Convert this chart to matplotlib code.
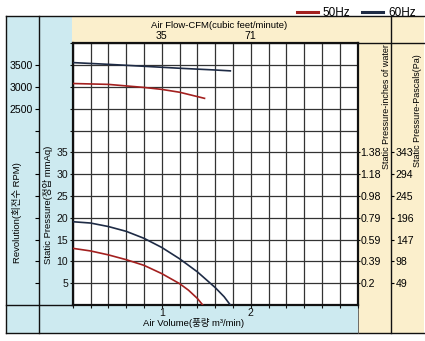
import numpy as np
import matplotlib
matplotlib.use("Agg")
import matplotlib.pyplot as plt
from matplotlib.patches import Rectangle
from matplotlib import font_manager

names = {f.name for f in font_manager.fontManager.ttflist}
narrow = 'Liberation Sans Narrow' if 'Liberation Sans Narrow' in names else 'Liberation Sans'
plt.rcParams['font.family'] = [narrow, 'Noto Sans CJK KR', 'DejaVu Sans']

# --- data (air volume in m3/min) ---
vol_60_sp = [0.0, 0.2, 0.4, 0.6, 0.8, 1.0, 1.2, 1.4, 1.6, 1.7, 1.77]
sp_60 = [19.1, 18.8, 18.0, 16.9, 15.3, 13.2, 10.6, 7.6, 4.0, 1.9, 0.0]
vol_50_sp = [0.0, 0.2, 0.4, 0.6, 0.8, 1.0, 1.2, 1.3, 1.4, 1.46]
sp_50 = [13.0, 12.4, 11.5, 10.4, 9.1, 7.2, 4.9, 3.4, 1.5, 0.0]

vol_60_rpm = [0.0, 0.4, 0.8, 1.2, 1.6, 1.77]
rpm_60 = [3560, 3520, 3475, 3430, 3390, 3370]
vol_50_rpm = [0.0, 0.4, 0.8, 1.0, 1.2, 1.48]
rpm_50 = [3080, 3060, 2990, 2945, 2880, 2740]

mmaq_ticks = [5, 10, 15, 20, 25, 30, 35]
inch_labels = ["0.2", "0.39", "0.59", "0.79", "0.98", "1.18", "1.38"]
pa_labels = ["49", "98", "147", "196", "245", "294", "343"]
rpm_ticks = [2500, 3000, 3500]
volume_ticks = [1, 2]
cfm_labels = ["35", "71"]

RED = '#a3201f'
NAVY = '#1e2b45'
BLUE_BG = '#cdeaf0'
BEIGE = '#fbefcc'
FS = 7.6
LFS = 6.8


def rpm_to_row(r):
    # RPM scale shares the grid: 3500 rpm on the 55 mmAq line, 100 rpm per unit
    return (np.asarray(r) - 3500) / 100.0 + 55


W, H = 425, 341
fig = plt.figure(figsize=(W / 100, H / 100), dpi=100)

# background panel in pixel coordinates
bg = fig.add_axes([0, 0, 1, 1])
bg.set_xlim(0, W)
bg.set_ylim(H, 0)
bg.axis('off')
bg.add_patch(Rectangle((6, 16), 66, 317, color=BLUE_BG, lw=0))
bg.add_patch(Rectangle((6, 305), 352, 28, color=BLUE_BG, lw=0))
bg.add_patch(Rectangle((72, 16), 352, 27, color=BEIGE, lw=0))
bg.add_patch(Rectangle((358, 43), 66, 290, color=BEIGE, lw=0))
k = dict(color='#111111', lw=1.0)
bg.plot([6, 424], [16, 16], **k)
bg.plot([6, 424], [333, 333], **k)
bg.plot([6, 6], [16, 333], **k)
bg.plot([39, 39], [16, 333], **k)
bg.plot([391, 391], [16, 333], **k)
bg.plot([6, 72], [305, 305], **k)
bg.plot([358, 424], [43, 43], **k)
bg.plot([358, 358], [305, 333], color='#555555', lw=0.6)

bg.text(17, 213, "Revolution(회전수 RPM)", rotation=90, ha='center', va='center', fontsize=LFS)
bg.text(48, 205, "Static Pressure(정압 mmAq)", rotation=90, ha='center', va='center', fontsize=LFS)
bg.text(219, 25, "Air Flow-CFM(cubic feet/minute)", ha='center', va='center', fontsize=LFS)
bg.text(194, 323, "Air Volume(풍량 m³/min)", ha='center', va='center', fontsize=LFS)
bg.text(386.5, 107, "Static Pressure-inches of water", rotation=90, ha='center', va='center', fontsize=6.5)
bg.text(418, 111, "Static Pressure-Pascals(Pa)", rotation=90, ha='center', va='center', fontsize=6.5)

# main chart
ax = fig.add_axes([72.7 / W, (H - 305) / H, 285 / W, 261.6 / H])
ax.set_facecolor('white')
ax.set_xlim(0, 3.2)
ax.set_ylim(0, 60)

ax.set_xticks(np.arange(0, 3.2001, 0.2), minor=True)
ax.set_yticks(np.arange(0, 60.001, 5), minor=True)
ax.set_xticks(volume_ticks, [str(v) for v in volume_ticks])
ax.set_yticks(mmaq_ticks, [str(v) for v in mmaq_ticks])
ax.grid(True, which='both', color='#333333', lw=0.9)
ax.tick_params(which='both', direction='out', length=2.2, width=0.8, labelsize=FS, pad=1.0, colors='#111111')
ax.tick_params(axis='x', which='major', pad=0.3)
for s in ax.spines.values():
    s.set_linewidth(1.6)
    s.set_color('#111111')

ax.plot(vol_60_rpm, rpm_to_row(rpm_60), color=NAVY, lw=1.2, zorder=3)
ax.plot(vol_50_rpm, rpm_to_row(rpm_50), color=RED, lw=1.2, zorder=3)
l50, = ax.plot(vol_50_sp, sp_50, color=RED, lw=1.2, zorder=3, label='50Hz')
l60, = ax.plot(vol_60_sp, sp_60, color=NAVY, lw=1.2, zorder=3, label='60Hz')

# CFM on top
top = ax.secondary_xaxis('top')
top.set_xticks(volume_ticks, cfm_labels)
top.tick_params(length=0, labelsize=FS, pad=2.0)
top.spines['top'].set_visible(False)

# RPM scale in left column
rpm_ax = ax.secondary_yaxis(-33.7 / 285)
rows = list(range(5, 45, 5)) + list(rpm_to_row(rpm_ticks))
rpm_ax.set_yticks(rows, [''] * 8 + [str(r) for r in rpm_ticks])
rpm_ax.tick_params(direction='out', length=3, width=0.8, labelsize=FS, pad=1.5)
rpm_ax.spines['left'].set_visible(False)

# inches of water
inch_ax = ax.secondary_yaxis('right')
inch_ax.set_yticks(mmaq_ticks, inch_labels)
inch_ax.tick_params(direction='out', length=1.2, width=0.8, labelsize=FS, pad=0.8)
inch_ax.spines['right'].set_visible(False)

# pascals
pa_ax = ax.secondary_yaxis(1 + 33.3 / 285)
pa_ax.set_yticks(mmaq_ticks, pa_labels)
pa_ax.tick_params(direction='out', length=2.5, width=0.8, labelsize=FS, pad=1.0)
pa_ax.spines['right'].set_visible(False)

fig.legend(handles=[l50, l60], loc='upper right', bbox_to_anchor=(0.995, 1.0), ncol=2,
           frameon=False, fontsize=8.5, handlelength=1.8, handletextpad=0.4, columnspacing=1.0,
           borderaxespad=0.2)
for h in fig.legends[0].get_lines():
    h.set_linewidth(2.2)

fig.savefig('out.png', dpi=100)
